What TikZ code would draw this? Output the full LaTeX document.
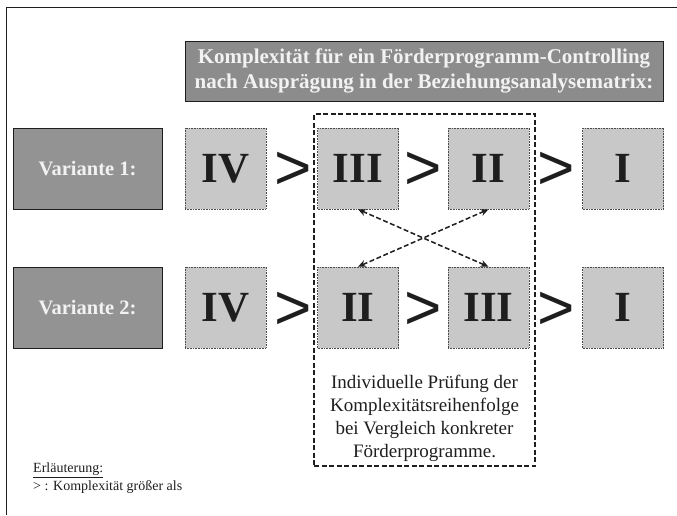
\documentclass[tikz,border=0pt]{standalone}
\usepackage{fontspec}
\setmainfont{Liberation Serif}
\newfontfamily\gtfont{Liberation Sans}
\usetikzlibrary{arrows.meta}
\definecolor{darkbox}{HTML}{939393}
\definecolor{titlebox}{HTML}{8C8C8C}
\definecolor{lightbox}{HTML}{C8C8C8}
\definecolor{inktext}{HTML}{1E1E1E}
\definecolor{paletext}{HTML}{F2F2F2}
\tikzset{
  varbox/.style={draw=inktext, line width=0.8pt, fill=darkbox, minimum width=149pt, minimum height=81pt, inner sep=0pt, font=\fontsize{20.5}{22}\selectfont\bfseries, text=paletext},
  numbox/.style={draw=inktext!80, densely dotted, line width=0.6pt, fill=lightbox, minimum width=81pt, minimum height=81pt, inner sep=0pt, font=\fontsize{43}{43}\selectfont\bfseries, text=inktext},
  gtsign/.style={inner sep=0pt, font=\gtfont\fontsize{64}{64}\selectfont, text=inktext},
  longdash/.style={dash pattern=on 5pt off 2.5pt},
  crossarrow/.style={longdash, line width=1.5pt, draw=inktext, {Stealth[length=8pt,width=7pt]}-{Stealth[length=8pt,width=7pt]}},
}
\begin{document}
\begin{tikzpicture}[x=1pt,y=-1pt]
\useasboundingbox (0,0) rectangle (677,515);
% frame
\draw[line width=1pt, inktext] (677,7) -- (6,7) -- (6,515);
% title
\node[draw=inktext, line width=0.8pt, fill=titlebox, minimum width=478pt, minimum height=60pt, inner sep=0pt, align=center, text=paletext, font=\fontsize{21}{25}\selectfont\bfseries] (title) at (424,71) {Komplexität für ein Förderprogramm-Controlling\\nach Ausprägung in der Beziehungsanalysematrix:};
% dashed box
\node[draw=inktext, longdash, line width=1.2pt, minimum width=221pt, minimum height=352pt, inner sep=0pt] (group) at (424.5,290) {};
% row 1
\node[varbox] (v1) at (87.5,168.5) {Variante 1:};
\node[numbox] (a4) at (225.5,168.5) {IV};
\node[gtsign] (g11) at (293,171) {>};
\node[numbox] (a3) at (358,168.5) {III};
\node[gtsign] (g12) at (423,171) {>};
\node[numbox] (a2) at (488.5,168.5) {II};
\node[gtsign] (g13) at (556,171) {>};
\node[numbox] (a1) at (623,168.5) {I};
% row 2
\node[varbox] (v2) at (87.5,307.5) {Variante 2:};
\node[numbox] (b4) at (225.5,307.5) {IV};
\node[gtsign] (g21) at (293,311) {>};
\node[numbox] (b2) at (358,307.5) {II};
\node[gtsign] (g22) at (423,311) {>};
\node[numbox] (b3) at (488.5,307.5) {III};
\node[gtsign] (g23) at (556,311) {>};
\node[numbox] (b1) at (623,307.5) {I};
% crossing arrows
\draw[crossarrow] (a3.south) -- (b3.north);
\draw[crossarrow] (a2.south) -- (b2.north);
% explanation text
\node[align=center, text=inktext, font=\fontsize{19}{23}\selectfont] (note) at (424.5,418) {Individuelle Prüfung der\\Komplexitätsreihenfolge\\bei Vergleich konkreter\\Förderprogramme.};
% legend
\node[anchor=west, align=left, text=inktext, font=\fontsize{14}{17.5}\selectfont, inner sep=0pt] (legend) at (33,478) {\underline{Erläuterung:}\\> : Komplexität größer als};
\end{tikzpicture}
\end{document}
